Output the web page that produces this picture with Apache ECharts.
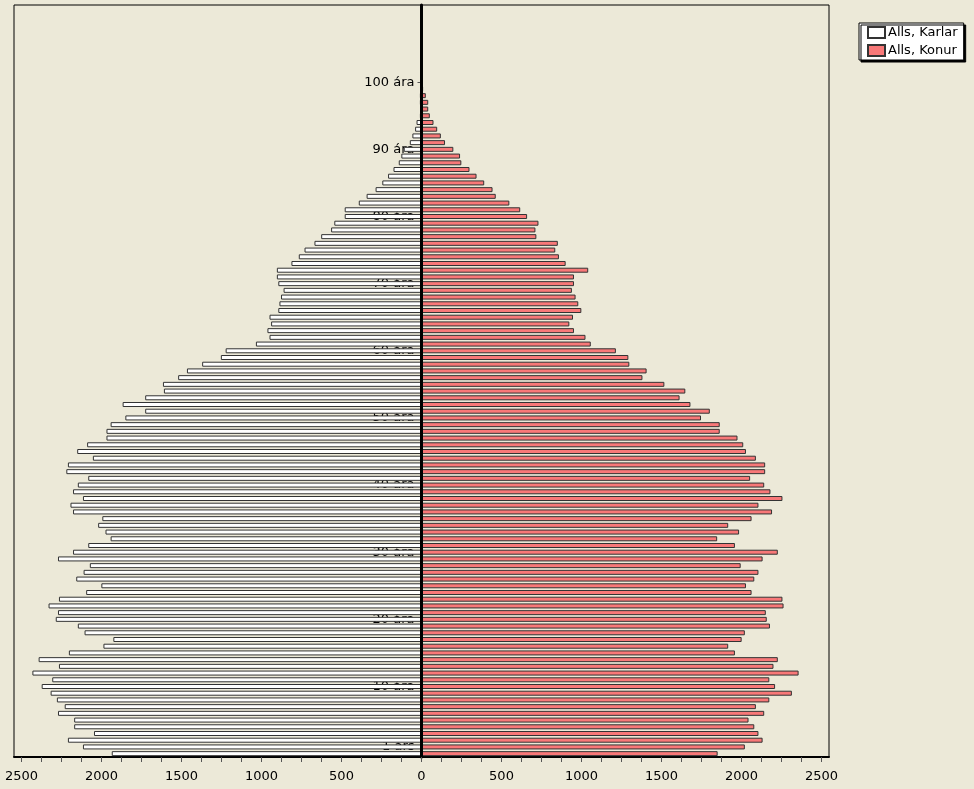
<!DOCTYPE html>
<html>
<head>
<meta charset="utf-8">
<script src="https://cdn.jsdelivr.net/npm/echarts@6/dist/echarts.min.js"></script>
<style>
	html, body { margin: 0; padding: 0; background: #ECE9D8; }
	#chart { width: 974px; height: 789px; }
</style>
</head>
<body>
<div id="chart"></div>
<script>
// Mannfjöldi eftir aldri, karlar og konur (aldur 0 neðst)
var karlar = [
	1936, 2116, 2210, 2047, 2171, 2171, 2272, 2230, 2279, 2318,
	2374, 2308, 2432, 2266, 2393, 2204, 1988, 1926, 2106, 2148,
	2286, 2272, 2331, 2266, 2096, 2001, 2158, 2112, 2073, 2272,
	2178, 2083, 1943, 1975, 2021, 1995, 2178, 2194, 2116, 2178,
	2148, 2083, 2220, 2210, 2054, 2152, 2090, 1969, 1969, 1943,
	1851, 1727, 1868, 1727, 1610, 1616, 1521, 1466, 1371, 1254,
	1224, 1035, 950, 963, 940, 950, 895, 888, 878, 862,
	895, 904, 904, 813, 767, 731, 669, 627, 565, 545,
	480, 480, 392, 343, 287, 245, 209, 175, 142, 126,
	111, 73, 57, 40, 31, 10, 6, 10, 10, 3,
	1
];
var konur = [
	1851, 2021, 2132, 2106, 2080, 2044, 2142, 2090, 2174, 2315,
	2210, 2174, 2357, 2200, 2227, 1959, 1917, 2001, 2021, 2178,
	2158, 2152, 2263, 2256, 2063, 2028, 2080, 2106, 1995, 2132,
	2227, 1959, 1848, 1985, 1917, 2063, 2191, 2106, 2256, 2181,
	2142, 2054, 2148, 2148, 2090, 2028, 2011, 1975, 1864, 1864,
	1747, 1802, 1681, 1613, 1649, 1518, 1381, 1407, 1299, 1293,
	1215, 1058, 1025, 953, 924, 947, 999, 980, 963, 940,
	953, 953, 1042, 901, 859, 836, 852, 718, 712, 731,
	660, 617, 549, 464, 444, 392, 344, 300, 249, 241,
	199, 147, 121, 98, 75, 52, 42, 42, 27, 10,
	4
];
var maxAldur = 111;
var aldursMerki = { 1: '1 árs', 10: '10 ára', 20: '20 ára', 30: '30 ára', 40: '40 ára', 50: '50 ára',
	60: '60 ára', 70: '70 ára', 80: '80 ára', 90: '90 ára', 100: '100 ára' };
var xMerki = [-2500, -2000, -1500, -1000, -500, 0, 500, 1000, 1500, 2000, 2500];
var xStrik = [];
for (var t = -2500; t <= 2500; t += 125) {
	xStrik.push(t);
}

var aldur = [];
for (var i = 0; i <= maxAldur; i++) {
	aldur.push(String(i));
}

var fontName = 'DejaVu Sans';
var gridLeft = 14, gridWidth = 815;
var myChart = echarts.init(document.getElementById('chart'));
var option = {
	backgroundColor: '#ECE9D8',
	animation: false,
	textStyle: { fontFamily: fontName },
	legend: {
		orient: 'vertical',
		left: 859,
		top: 23,
		padding: [3, 6, 3, 8],
		backgroundColor: '#fff',
		borderColor: '#000',
		borderWidth: 1,
		shadowColor: '#000',
		shadowOffsetX: 2,
		shadowOffsetY: 2,
		shadowBlur: 0,
		itemWidth: 17,
		itemHeight: 11,
		itemGap: 5,
		icon: 'rect',
		textStyle: { fontFamily: fontName, fontSize: 13, color: '#000', padding: [0, 0, 0, -2] },
		data: ['Alls, Karlar', 'Alls, Konur']
	},
	grid: {
		left: gridLeft,
		top: 5,
		width: gridWidth,
		height: 752,
		containLabel: false,
		outerBoundsMode: 'none',
		show: true,
		borderColor: '#000',
		borderWidth: 1,
		backgroundColor: 'transparent'
	},
	xAxis: {
		type: 'value',
		min: -2547,
		max: 2547,
		splitLine: { show: false },
		axisLine: { show: true, onZero: false, lineStyle: { color: '#000', width: 2 } },
		axisTick: { show: true, customValues: xStrik, length: 5, lineStyle: { color: '#555' } },
		axisLabel: {
			customValues: xMerki,
			margin: 13,
			fontSize: 13,
			color: '#000',
			fontFamily: fontName,
			formatter: function(v) { return Math.abs(v); }
		}
	},
	yAxis: {
		type: 'category',
		data: aldur,
		position: 'left',
		// færa ásinn að núllpunkti x-áss (miðja)
		offset: -gridWidth / 2,
		axisLine: { show: true, onZero: false, lineStyle: { color: '#000', width: 3 } },
		axisTick: {
			show: true,
			alignWithLabel: true,
			length: 4,
			lineStyle: { color: '#555' },
			interval: function(idx) { return aldursMerki[idx] !== undefined; }
		},
		axisLabel: {
			fontSize: 13,
			color: '#000',
			fontFamily: fontName,
			margin: 7,
			interval: function(idx) { return aldursMerki[idx] !== undefined; },
			formatter: function(v) { return aldursMerki[v] || ''; }
		},
		splitLine: { show: false }
	},
	series: [
		{
			name: 'Alls, Karlar',
			type: 'bar',
			barWidth: 5,
			barGap: '-100%',
			itemStyle: { color: '#fff', borderColor: '#333', borderWidth: 1 },
			data: karlar.map(function(v) { return -v; }),
			markLine: {
				silent: true,
				symbol: 'none',
				label: { show: false },
				lineStyle: { color: '#000', width: 3, type: 'solid' },
				data: [{ xAxis: 0 }]
			}
		},
		{
			name: 'Alls, Konur',
			type: 'bar',
			barWidth: 5,
			barGap: '-100%',
			itemStyle: { color: '#f87878', borderColor: '#333', borderWidth: 1 },
			data: konur
		}
	]
};
myChart.setOption(option);
</script>
</body>
</html>
